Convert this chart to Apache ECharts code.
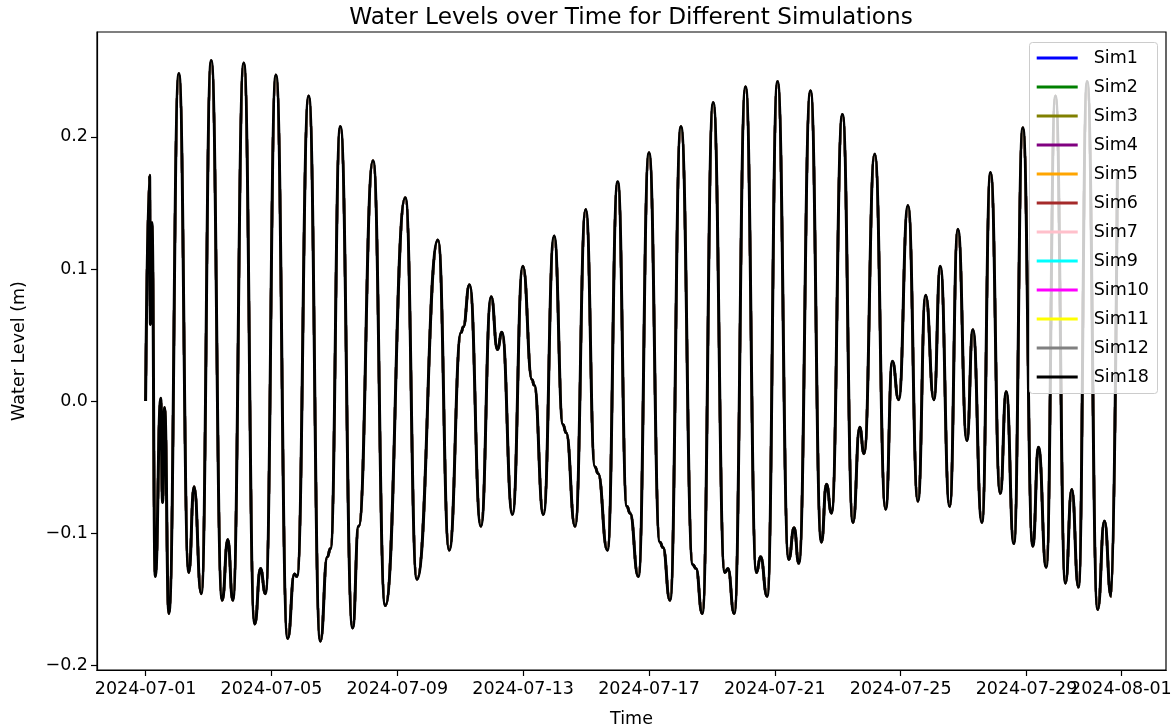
<!DOCTYPE html>
<html>
<head>
<meta charset="utf-8">
<script src="https://cdn.jsdelivr.net/npm/echarts@6/dist/echarts.min.js"></script>
<style>
  html, body { margin: 0; padding: 0; background: #fff; }
  #chart { width: 1174px; height: 728px; }
</style>
</head>
<body>
<div id="chart"></div>
<script>
// ---- data ----
const startDate = '2024-07-01T00:00:00Z';
// elapsed hours since 2024-07-01 00:00 of each turning point of the water level
const hoursFromStart = [
  0, 3.05, 3.66, 4.80, 7.39, 11.58, 12.95, 14.48, 17.75, 25.37,
  32.99, 36.95, 42.44, 50.06, 58.44, 62.70, 66.51, 74.90, 83.28, 87.62,
  91.43, 99.43, 108.42, 113.52, 115.43, 124.42, 133.33, 138.67, 140.95, 148.57,
  157.94, 162.51, 173.49, 182.86, 198.10, 207.01, 223.01, 231.62, 240.76, 242.29,
  247.09, 255.77, 263.62, 268.42, 271.77, 279.85, 287.77, 294.86, 296.38, 303.47,
  311.62, 318.48, 320.76, 327.62, 335.77, 342.86, 345.14, 352.23, 360.15, 367.24,
  369.52, 375.85, 384.00, 392.38, 394.67, 400.00, 408.38, 417.52, 419.81, 424.61,
  432.99, 441.90, 444.19, 449.00, 457.67, 466.06, 469.10, 474.13, 482.06, 490.66,
  494.70, 498.28, 507.20, 515.57, 519.38, 523.19, 531.57, 539.65, 544.76, 548.03,
  556.19, 564.57, 569.67, 574.47, 581.57, 589.18, 595.04, 601.37, 606.24, 613.33,
  619.66, 626.51, 631.08, 637.94, 644.57, 651.96, 656.53, 662.32, 669.18, 676.80,
  681.14, 687.00, 694.09, 701.71, 706.51, 711.61, 718.24, 726.32, 731.42, 736.53,
  741.33
];
// water level (m) at those times (all simulations overlap almost exactly)
const waterLevel = [
  0.000, 0.171, 0.058, 0.135, -0.133, 0.002, -0.077, -0.005, -0.161, 0.248,
  -0.130, -0.065, -0.146, 0.258, -0.151, -0.105, -0.151, 0.256, -0.169, -0.127,
  -0.146, 0.247, -0.180, -0.131, -0.133, 0.231, -0.182, -0.118, -0.112, 0.208,
  -0.172, -0.095, 0.182, -0.155, 0.154, -0.135, 0.122, -0.113, 0.052, 0.056,
  0.088, -0.095, 0.079, 0.039, 0.052, -0.086, 0.102, 0.016, 0.012, -0.086,
  0.125, -0.018, -0.024, -0.095, 0.145, -0.050, -0.055, -0.113, 0.166, -0.080,
  -0.085, -0.133, 0.188, -0.107, -0.111, -0.151, 0.208, -0.124, -0.127, -0.161,
  0.226, -0.130, -0.127, -0.161, 0.238, -0.130, -0.118, -0.148, 0.242, -0.120,
  -0.096, -0.123, 0.235, -0.107, -0.063, -0.085, 0.217, -0.092, -0.020, -0.040,
  0.187, -0.082, 0.030, 0.001, 0.148, -0.076, 0.080, 0.001, 0.102, -0.080,
  0.130, -0.030, 0.054, -0.092, 0.173, -0.070, 0.007, -0.108, 0.207, -0.110,
  -0.035, -0.126, 0.231, -0.138, -0.067, -0.141, 0.242, -0.158, -0.091, -0.148,
  0.173
];
const simNames = ['Sim1','Sim2','Sim3','Sim4','Sim5','Sim6','Sim7','Sim9','Sim10','Sim11','Sim12','Sim18'];
const simColors = ['#0000ff','#008000','#808000','#800080','#ffa500','#a52a2a','#ffc0cb','#00ffff','#ff00ff','#ffff00','#808080','#000000'];
const xTickDates = ['2024-07-01','2024-07-05','2024-07-09','2024-07-13','2024-07-17','2024-07-21','2024-07-25','2024-07-29'];
const xEndTickDate = ['2024-08-01'];
const yTicks = [-0.2, -0.1, 0.0, 0.1, 0.2];

// ---- chart ----
const HOUR = 3600 * 1000;
const t0 = Date.parse(startDate);
const points = hoursFromStart.map((h, i) => [t0 + h * HOUR, waterLevel[i]]);
const toMs = s => Date.parse(s + 'T00:00:00Z');
const xTickValues = xTickDates.map(toMs);
const xEndTickValues = xEndTickDate.map(toMs);
const FONT = 'DejaVu Sans';
const X_MIN = t0 - 37.07 * HOUR, X_MAX = t0 + 778.4 * HOUR;

function fmtDate(v) {
  const d = new Date(v);
  const p = n => String(n).padStart(2, '0');
  return d.getUTCFullYear() + '-' + p(d.getUTCMonth() + 1) + '-' + p(d.getUTCDate());
}

function makeX(ticks, withName) {
  return {
    type: 'value', position: 'bottom',
    min: X_MIN, max: X_MAX,
    name: withName ? 'Time' : '', nameLocation: 'middle', nameGap: 40,
    nameTextStyle: { fontFamily: FONT, fontSize: 17.5, color: '#000' },
    axisLine: { show: true, onZero: false, lineStyle: { color: '#000', width: 1.2 } },
    axisTick: { show: true, length: 6, customValues: ticks, lineStyle: { color: '#000', width: 1.2 } },
    axisLabel: {
      customValues: ticks, formatter: v => fmtDate(v),
      fontFamily: FONT, fontSize: 17.5, color: '#000', margin: 10, hideOverlap: false
    },
    splitLine: { show: false }
  };
}

const chart = echarts.init(document.getElementById('chart'), null, { renderer: 'canvas' });
chart.setOption({
  animation: false,
  backgroundColor: '#ffffff',
  textStyle: { fontFamily: FONT },
  title: {
    text: 'Water Levels over Time for Different Simulations',
    left: 626, textAlign: 'center', top: 1,
    textStyle: { fontFamily: FONT, fontSize: 23.2, fontWeight: 'normal', color: '#000' }
  },
  grid: {
    left: 97, right: 8, top: 32, bottom: 58,
    containLabel: false, outerBoundsMode: 'none',
    show: true, borderColor: '#000', borderWidth: 1.2, backgroundColor: 'transparent'
  },
  // translucent legend frame, drawn above the lines (as in the reference)
  graphic: [{
    type: 'rect', left: 1029, top: 42, z: 100, silent: true,
    shape: { width: 128, height: 351, r: 3 },
    style: { fill: 'rgba(255,255,255,0.8)', stroke: '#cccccc', lineWidth: 1 }
  }],
  legend: {
    orient: 'vertical', right: 17, top: 42, z: 110,
    data: simNames,
    icon: 'rect', itemWidth: 41, itemHeight: 3, itemGap: 9,
    padding: [6, 8, 7, 7],
    selectedMode: false,
    formatter: name => '{a|' + name + '}',
    textStyle: {
      fontFamily: FONT, fontSize: 17.5, color: '#000', lineHeight: 20,
      rich: { a: { fontFamily: FONT, fontSize: 17.5, color: '#000', lineHeight: 20, padding: [0, 0, 0, 11] } }
    }
  },
  xAxis: [makeX(xTickValues, true), makeX(xEndTickValues, false)],
  yAxis: {
    type: 'value',
    min: -0.2038, max: 0.2795,
    name: 'Water Level (m)', nameLocation: 'middle', nameGap: 69, nameRotate: 90,
    nameTextStyle: { fontFamily: FONT, fontSize: 17.5, color: '#000' },
    axisLine: { show: true, onZero: false, lineStyle: { color: '#000', width: 1.2 } },
    axisTick: { show: true, length: 6, customValues: yTicks, lineStyle: { color: '#000', width: 1.2 } },
    axisLabel: {
      customValues: yTicks,
      formatter: v => (v < -1e-9 ? '\u2212' : '') + Math.abs(v).toFixed(1),
      fontFamily: FONT, fontSize: 17.5, color: '#000', margin: 9
    },
    splitLine: { show: false }
  },
  series: simNames.map((name, i) => ({
    name: name,
    type: 'line',
    xAxisIndex: 0,
    data: points,
    showSymbol: false,
    symbol: 'none',
    smooth: 0.5,
    smoothMonotone: 'x',
    color: simColors[i],
    lineStyle: { color: simColors[i], width: name === 'Sim18' ? 3 : 2.4 },
    emphasis: { disabled: true }
  }))
});
</script>
</body>
</html>
